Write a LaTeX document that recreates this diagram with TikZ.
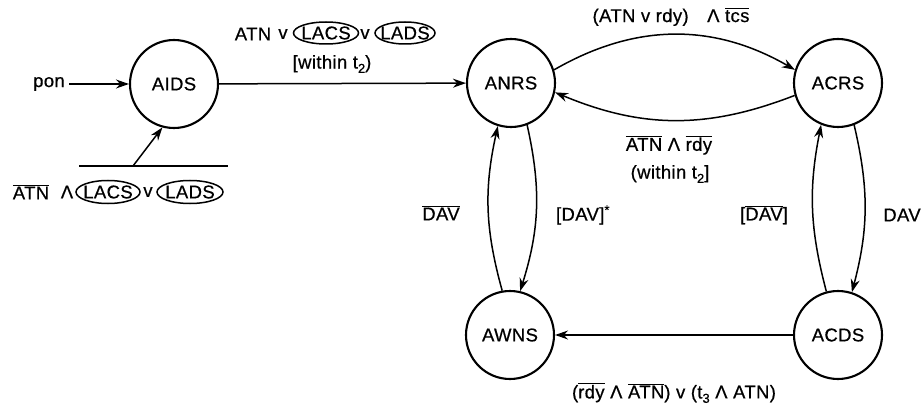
\documentclass[tikz,border=0pt]{standalone}
\usepackage{fontspec}
\setmainfont{Liberation Sans}[LetterSpace=2, FakeBold=0.6]
\usetikzlibrary{arrows.meta}
% overlined text and low index digits
\newcommand\ovl[1]{\ensuremath{\overline{\mbox{#1}}}}
\newcommand\lowidx[1]{\raisebox{-0.45ex}{\fontsize{13}{13}\selectfont #1}}
\begin{document}
\begin{tikzpicture}[x=1pt,y=-1pt,
  every node/.style={font=\fontsize{18.5}{22}\selectfont, inner sep=1pt},
  state/.style={circle, draw, line width=2.1pt, minimum size=88pt, inner sep=0pt},
  conn/.style={line width=1.5pt, -{Stealth[length=13pt,width=9pt]}},
  ring/.style={line width=1.5pt}]
\useasboundingbox (0,0) rectangle (923,406);

% states
\node[state] (AIDS) at (174,84) {AIDS};
\node[state] (ANRS) at (511,83) {ANRS};
\node[state] (ACRS) at (838,83) {ACRS};
\node[state] (AWNS) at (510,335) {AWNS};
\node[state] (ACDS) at (838,335) {ACDS};

% power-on entry
\node (pon) at (49,84) {pon};
\draw[conn, shorten <=3pt] (pon) -- (AIDS);

% reset condition under AIDS
\coordinate (barL) at (79,166);
\coordinate (barR) at (228,166);
\coordinate (barA) at (133,166);
\draw[line width=1.5pt] (barL) -- (barR);
\draw[conn] (barA) -- (AIDS.255);
\node (r1) at (31,192) {\ovl{ATN}};
\node (r2) at (67,192) {Λ};
\node (r3) at (108,192) {LACS};
\node (r4) at (148,192) {v};
\node (r5) at (190,192) {LADS};
\draw[ring] (r3.center) ellipse [x radius=32pt, y radius=11.5pt];
\draw[ring] (r5.center) ellipse [x radius=33pt, y radius=11.5pt];

% AIDS -> ANRS
\draw[conn] (AIDS) -- (ANRS);
\node (t1) at (253,34) {ATN};
\node (t2) at (283,34) {v};
\node (t3) at (326,33) {LACS};
\node (t4) at (365,34) {v};
\node (t5) at (405,33) {LADS};
\draw[ring] (t3.center) ellipse [x radius=32.5pt, y radius=11pt];
\draw[ring] (t5.center) ellipse [x radius=30pt, y radius=11pt];
\node (t6) at (332,64) {[within t\lowidx{2})};

% ANRS <-> ACRS
\draw[conn] (ANRS.17) to[bend left=30] (ACRS.163);
\node (u1) at (671,17) {(ATN v rdy)\quad Λ \ovl{tcs}};
\draw[conn] (ACRS.196) to[bend left=22] (ANRS.348);
\node (u2) at (669,145) {\ovl{ATN} Λ \ovl{rdy}};
\node (u3) at (670,174) {(within t\lowidx{2}]};

% ANRS <-> AWNS
\draw[conn] (AWNS.100) to[bend left=14] (ANRS.253);
\draw[conn] (ANRS.291) to[bend left=15] (AWNS.77);
\node (v1) at (441,213) {\ovl{DAV}};
\node (v2) at (583,215) {[DAV]\textsuperscript{*}};

% ACRS <-> ACDS
\draw[conn] (ACDS.105) to[bend left=13] (ACRS.248);
\draw[conn] (ACRS.291) to[bend left=14] (ACDS.72);
\node (w1) at (764,215) {[\ovl{DAV}]};
\node (w2) at (902,215) {DAV};

% ACDS -> AWNS
\draw[conn] (ACDS) -- (AWNS);
\node (x1) at (674,393) {(\ovl{rdy} Λ \ovl{ATN}) v (t\lowidx{3} Λ ATN)};
\end{tikzpicture}
\end{document}
